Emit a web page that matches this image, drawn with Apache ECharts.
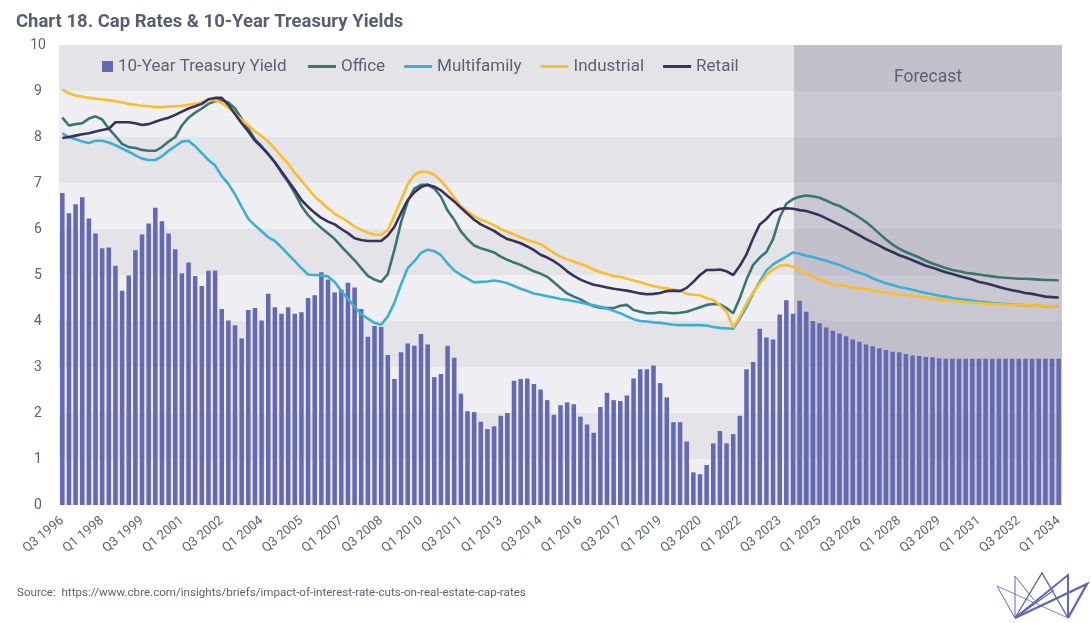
<!DOCTYPE html>
<html>
<head>
<meta charset="utf-8">
<script src="https://cdn.jsdelivr.net/npm/echarts@6/dist/echarts.min.js"></script>
<style>
html,body{margin:0;padding:0;background:#ffffff;}
#c{width:1091px;height:623px;}
</style>
</head>
<body>
<div id="c"></div>
<script>
// Quarter categories: Q3 1996 ... Q1 2034
const startYear = 1996, startQuarter = 3, quarterCount = 151;
const quarters = [];
for (let k = 0; k < quarterCount; k++) {
  const n = (startQuarter - 1) + k;
  quarters.push('Q' + (n % 4 + 1) + ' ' + (startYear + Math.floor(n / 4)));
}
const forecastStart = 'Q2 2024';

const treasury = [
  6.78, 6.34, 6.54, 6.69, 6.23, 5.90, 5.58, 5.60, 5.20, 4.66,
  4.99, 5.54, 5.88, 6.12, 6.46, 6.17, 5.90, 5.56, 5.04, 5.27,
  4.98, 4.76, 5.09, 5.10, 4.26, 4.01, 3.91, 3.62, 4.24, 4.28,
  4.01, 4.59, 4.30, 4.16, 4.30, 4.16, 4.19, 4.50, 4.56, 5.06,
  4.90, 4.62, 4.68, 4.83, 4.73, 4.26, 3.66, 3.89, 3.87, 3.26,
  2.74, 3.32, 3.51, 3.46, 3.72, 3.49, 2.78, 2.85, 3.46, 3.20,
  2.42, 2.04, 2.02, 1.81, 1.65, 1.71, 1.94, 2.00, 2.70, 2.74,
  2.75, 2.63, 2.51, 2.28, 1.96, 2.17, 2.23, 2.19, 1.92, 1.75,
  1.57, 2.13, 2.44, 2.28, 2.26, 2.38, 2.75, 2.95, 2.95, 3.03,
  2.65, 2.34, 1.80, 1.80, 1.38, 0.71, 0.67, 0.87, 1.34, 1.61,
  1.34, 1.54, 1.94, 2.95, 3.11, 3.83, 3.64, 3.60, 4.14, 4.45,
  4.16, 4.44, 4.20, 4.00, 3.95, 3.86, 3.79, 3.73, 3.67, 3.60,
  3.55, 3.49, 3.45, 3.41, 3.37, 3.33, 3.32, 3.28, 3.25, 3.24,
  3.22, 3.21, 3.19, 3.18, 3.18, 3.18, 3.18, 3.18, 3.18, 3.18,
  3.18, 3.18, 3.18, 3.18, 3.18, 3.18, 3.18, 3.18, 3.18, 3.18,
  3.18
];

const office = [
  8.42, 8.25, 8.28, 8.30, 8.40, 8.45, 8.38, 8.18, 8.02, 7.85,
  7.78, 7.76, 7.72, 7.70, 7.70, 7.78, 7.90, 8.00, 8.25, 8.42,
  8.53, 8.62, 8.72, 8.78, 8.80, 8.75, 8.62, 8.40, 8.18, 7.95,
  7.80, 7.62, 7.45, 7.22, 7.02, 6.78, 6.50, 6.30, 6.15, 6.02,
  5.90, 5.78, 5.62, 5.47, 5.32, 5.15, 4.98, 4.90, 4.85, 5.02,
  5.55, 6.15, 6.60, 6.88, 6.96, 6.96, 6.88, 6.70, 6.40, 6.20,
  5.95, 5.78, 5.64, 5.58, 5.54, 5.49, 5.40, 5.33, 5.27, 5.22,
  5.15, 5.08, 5.03, 4.96, 4.84, 4.72, 4.60, 4.53, 4.47, 4.39,
  4.32, 4.29, 4.28, 4.28, 4.33, 4.35, 4.24, 4.20, 4.17, 4.17,
  4.19, 4.18, 4.17, 4.18, 4.20, 4.25, 4.30, 4.35, 4.37, 4.36,
  4.28, 4.17, 4.50, 4.90, 5.22, 5.38, 5.50, 5.78, 6.25, 6.55,
  6.65, 6.70, 6.73, 6.71, 6.68, 6.62, 6.55, 6.50, 6.42, 6.34,
  6.25, 6.15, 6.03, 5.90, 5.77, 5.66, 5.57, 5.50, 5.44, 5.38,
  5.31, 5.25, 5.20, 5.15, 5.11, 5.08, 5.05, 5.03, 5.01, 4.99,
  4.97, 4.95, 4.94, 4.93, 4.92, 4.92, 4.91, 4.90, 4.89, 4.89,
  4.88
];

const multifamily = [
  8.08, 8.00, 7.95, 7.90, 7.87, 7.92, 7.92, 7.88, 7.82, 7.75,
  7.68, 7.60, 7.53, 7.50, 7.50, 7.58, 7.70, 7.80, 7.90, 7.92,
  7.80, 7.65, 7.50, 7.38, 7.15, 6.98, 6.75, 6.48, 6.22, 6.08,
  5.95, 5.82, 5.74, 5.60, 5.45, 5.30, 5.15, 5.01, 5.00, 4.99,
  4.97, 4.85, 4.65, 4.48, 4.31, 4.15, 4.05, 3.96, 3.92, 4.10,
  4.40, 4.80, 5.15, 5.30, 5.48, 5.55, 5.52, 5.43, 5.25, 5.10,
  5.00, 4.92, 4.84, 4.85, 4.86, 4.88, 4.86, 4.82, 4.76, 4.70,
  4.65, 4.60, 4.57, 4.54, 4.51, 4.48, 4.46, 4.43, 4.40, 4.37,
  4.34, 4.31, 4.27, 4.22, 4.17, 4.10, 4.04, 4.00, 3.99, 3.97,
  3.96, 3.94, 3.92, 3.91, 3.91, 3.91, 3.91, 3.90, 3.87, 3.85,
  3.84, 3.83, 4.05, 4.30, 4.60, 4.86, 5.10, 5.23, 5.32, 5.40,
  5.49, 5.46, 5.42, 5.39, 5.35, 5.31, 5.26, 5.22, 5.16, 5.10,
  5.05, 5.00, 4.93, 4.87, 4.82, 4.78, 4.74, 4.71, 4.68, 4.64,
  4.61, 4.58, 4.55, 4.53, 4.50, 4.48, 4.46, 4.44, 4.42, 4.41,
  4.39, 4.38, 4.37, 4.36, 4.35, 4.34, 4.33, 4.33, 4.32, 4.32,
  4.31
];

const industrial = [
  9.03, 8.95, 8.90, 8.88, 8.85, 8.83, 8.82, 8.80, 8.78, 8.75,
  8.72, 8.70, 8.68, 8.67, 8.65, 8.65, 8.66, 8.67, 8.68, 8.70,
  8.72, 8.75, 8.80, 8.80, 8.74, 8.64, 8.50, 8.38, 8.25, 8.12,
  8.02, 7.90, 7.75, 7.58, 7.42, 7.22, 7.05, 6.88, 6.70, 6.58,
  6.45, 6.33, 6.25, 6.16, 6.05, 5.98, 5.92, 5.88, 5.87, 5.98,
  6.30, 6.63, 6.98, 7.18, 7.25, 7.24, 7.18, 7.05, 6.88, 6.68,
  6.50, 6.38, 6.28, 6.20, 6.15, 6.08, 6.00, 5.94, 5.88, 5.82,
  5.76, 5.72, 5.67, 5.58, 5.48, 5.40, 5.34, 5.29, 5.24, 5.19,
  5.12, 5.06, 5.02, 4.98, 4.96, 4.92, 4.88, 4.84, 4.80, 4.76,
  4.73, 4.71, 4.68, 4.66, 4.59, 4.57, 4.56, 4.50, 4.46, 4.34,
  4.20, 3.86, 4.10, 4.38, 4.62, 4.82, 5.00, 5.12, 5.20, 5.22,
  5.18, 5.10, 5.03, 4.97, 4.90, 4.85, 4.80, 4.78, 4.76, 4.73,
  4.71, 4.69, 4.66, 4.64, 4.62, 4.60, 4.58, 4.57, 4.55, 4.53,
  4.51, 4.49, 4.47, 4.46, 4.44, 4.43, 4.41, 4.40, 4.39, 4.38,
  4.37, 4.37, 4.36, 4.35, 4.35, 4.34, 4.34, 4.33, 4.33, 4.32,
  4.31
];

const retail = [
  7.98, 8.00, 8.03, 8.06, 8.08, 8.12, 8.15, 8.18, 8.32, 8.32,
  8.32, 8.30, 8.26, 8.28, 8.33, 8.38, 8.42, 8.48, 8.55, 8.62,
  8.67, 8.72, 8.82, 8.85, 8.85, 8.70, 8.50, 8.30, 8.12, 7.92,
  7.78, 7.63, 7.45, 7.25, 7.05, 6.85, 6.63, 6.48, 6.35, 6.24,
  6.16, 6.10, 6.00, 5.91, 5.80, 5.76, 5.74, 5.74, 5.74, 5.86,
  6.05, 6.35, 6.63, 6.80, 6.91, 6.96, 6.92, 6.84, 6.72, 6.60,
  6.46, 6.33, 6.20, 6.10, 6.03, 5.96, 5.86, 5.78, 5.74, 5.69,
  5.62, 5.54, 5.44, 5.38, 5.30, 5.20, 5.08, 4.98, 4.90, 4.84,
  4.79, 4.76, 4.73, 4.70, 4.68, 4.66, 4.63, 4.60, 4.58, 4.59,
  4.61, 4.65, 4.66, 4.65, 4.72, 4.85, 5.00, 5.11, 5.11, 5.12,
  5.08, 5.00, 5.20, 5.45, 5.80, 6.10, 6.22, 6.38, 6.44, 6.45,
  6.44, 6.41, 6.39, 6.35, 6.30, 6.23, 6.16, 6.09, 6.02, 5.94,
  5.86, 5.78, 5.71, 5.64, 5.56, 5.50, 5.43, 5.38, 5.32, 5.26,
  5.20, 5.16, 5.11, 5.06, 5.02, 4.98, 4.94, 4.90, 4.85, 4.82,
  4.78, 4.74, 4.70, 4.67, 4.64, 4.61, 4.59, 4.56, 4.53, 4.52,
  4.51
];

const yTicks = [0, 1, 2, 3, 4, 5, 6, 7, 8, 9, 10];

const FONT = 'Roboto, "Noto Sans", sans-serif';
const TEXT = '#5c6175';
const C_BAR = '#6568b2';
const C_OFFICE = '#3a7573';
const C_MULTI = '#3db0d2';
const C_IND = '#fbbd2c';
const C_RETAIL = '#37325b';

const chart = echarts.init(document.getElementById('c'), null, {renderer: 'canvas'});

const option = {
  animation: false,
  backgroundColor: '#ffffff',
  textStyle: {fontFamily: FONT, color: TEXT},
  title: [
    {
      text: 'Chart 18. Cap Rates & 10-Year Treasury Yields',
      left: 11, top: 8,
      textStyle: {fontFamily: FONT, fontSize: 18.5, fontWeight: 'bold', color: '#585d71'}
    },
    {
      text: 'Source:  https://www.cbre.com/insights/briefs/impact-of-interest-rate-cuts-on-real-estate-cap-rates',
      left: 12, top: 582,
      textStyle: {fontFamily: FONT, fontSize: 11.6, fontWeight: 'normal', color: TEXT}
    }
  ],
  legend: [
    {
      data: ['10-Year Treasury Yield'],
      left: 97, top: 53,
      itemWidth: 11, itemHeight: 11,
      icon: 'rect',
      textStyle: {fontFamily: FONT, fontSize: 17, color: TEXT},
      selectedMode: false
    },
    {
      data: ['Office', 'Multifamily', 'Industrial', 'Retail'],
      left: 303, top: 53,
      itemWidth: 28, itemHeight: 3,
      itemGap: 19,
      icon: 'rect',
      textStyle: {fontFamily: FONT, fontSize: 17, color: TEXT},
      selectedMode: false
    }
  ],
  grid: {left: 59, right: 29, top: 45, bottom: 118, containLabel: false, outerBoundsMode: 'none'},
  xAxis: {
    type: 'category',
    data: quarters,
    boundaryGap: true,
    axisLine: {show: false},
    axisTick: {show: false},
    splitLine: {show: false},
    axisLabel: {
      interval: 5,
      rotate: 40,
      margin: 14,
      fontFamily: FONT,
      fontSize: 13,
      color: TEXT
    }
  },
  yAxis: {
    type: 'value',
    min: 0, max: 10, interval: 1,
    axisLine: {show: false},
    axisTick: {show: false},
    splitLine: {show: false},
    splitArea: {show: true, areaStyle: {color: ['#efeef2', '#e4e3e8']}},
    axisLabel: {
      fontFamily: FONT, fontSize: 14, color: TEXT,
      align: 'center', margin: 21,
      formatter: function (v) { return yTicks.indexOf(v) >= 0 ? String(v) : ''; }
    }
  },
  series: [
    {
      name: '10-Year Treasury Yield', type: 'bar', data: treasury,
      barCategoryGap: '32%',
      itemStyle: {color: C_BAR},
      z: 3
    },
    {
      name: 'Office', type: 'line', data: office,
      showSymbol: false, symbol: 'none',
      lineStyle: {color: C_OFFICE, width: 2.6}, itemStyle: {color: C_OFFICE}, z: 5
    },
    {
      name: 'Multifamily', type: 'line', data: multifamily,
      showSymbol: false, symbol: 'none',
      lineStyle: {color: C_MULTI, width: 2.6}, itemStyle: {color: C_MULTI}, z: 5
    },
    {
      name: 'Industrial', type: 'line', data: industrial,
      showSymbol: false, symbol: 'none',
      lineStyle: {color: C_IND, width: 2.6}, itemStyle: {color: C_IND}, z: 5
    },
    {
      name: 'Retail', type: 'line', data: retail,
      showSymbol: false, symbol: 'none',
      lineStyle: {color: C_RETAIL, width: 2.6}, itemStyle: {color: C_RETAIL}, z: 6
    }
  ]
};

chart.setOption(option);

// Forecast shading, positioned from the axes
const xFirst = chart.convertToPixel({xAxisIndex: 0}, quarters[0]);
const xLast = chart.convertToPixel({xAxisIndex: 0}, quarters[quarters.length - 1]);
const band = (xLast - xFirst) / (quarters.length - 1);
const xF = chart.convertToPixel({xAxisIndex: 0}, forecastStart) - band * 0.85;
const xEnd = xLast + band / 2;
const yTop = chart.convertToPixel({yAxisIndex: 0}, 10);
const yBot = chart.convertToPixel({yAxisIndex: 0}, 0);

const logoColor = '#6467b1';
chart.setOption({
  graphic: [
    {
      id: 'forecastArea', type: 'rect', z: 1, silent: true,
      shape: {x: xF, y: yTop, width: xEnd - xF, height: yBot - yTop},
      style: {fill: 'rgba(132,132,152,0.36)'}
    },
    {
      id: 'forecastLabel', type: 'text', z: 10, silent: true,
      x: (xF + xEnd) / 2, y: yTop + 33,
      style: {text: 'Forecast', fill: TEXT, font: '17.5px ' + FONT, textAlign: 'center', textVerticalAlign: 'middle'}
    },
    {
      id: 'logo', type: 'group', silent: true, z: 10,
      children: [
        {type: 'polyline', shape: {points: [[997, 586], [1015, 618], [1015, 576], [1034, 600]]}, style: {stroke: logoColor, lineWidth: 1, fill: null}},
        {type: 'polyline', shape: {points: [[997, 586], [1068, 618]]}, style: {stroke: logoColor, lineWidth: 0.8, fill: null}},
        {type: 'polyline', shape: {points: [[1015, 618], [1042, 573], [1068, 618]]}, style: {stroke: logoColor, lineWidth: 1.4, fill: null}},
        {type: 'polyline', shape: {points: [[1015, 618], [1068, 575], [1068, 618]]}, style: {stroke: logoColor, lineWidth: 2, fill: null}},
        {type: 'polyline', shape: {points: [[1015, 618], [1087, 584], [1068, 618]]}, style: {stroke: logoColor, lineWidth: 2.4, fill: null}},
        {type: 'polyline', shape: {points: [[1015, 618], [1054, 590]]}, style: {stroke: logoColor, lineWidth: 1.2, fill: null}}
      ]
    }
  ]
});
</script>
</body>
</html>
